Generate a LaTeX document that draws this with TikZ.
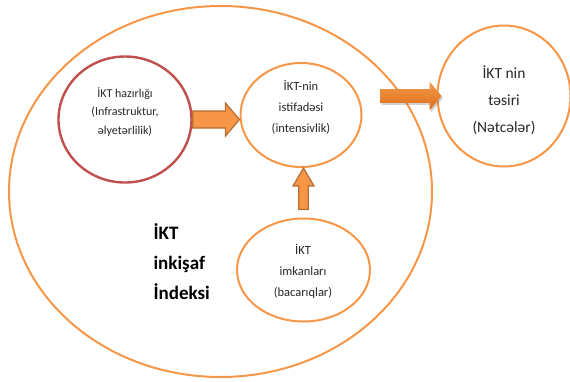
\documentclass[tikz,border=0pt]{standalone}
\usepackage{fontspec}
\setmainfont{Carlito}
\usetikzlibrary{calc,shapes.geometric,shadows}

\definecolor{ringorange}{HTML}{F79646}
\definecolor{ringred}{HTML}{C0504D}
\definecolor{arrowline}{HTML}{B66D31}
\definecolor{bigtop}{HTML}{F39A4A}
\definecolor{bigbottom}{HTML}{DE6E1A}

\tikzset{
  ring/.style={ellipse,draw=ringorange,line width=2pt,inner sep=0pt},
  smalltext/.style={align=center,font=\fontsize{12.5}{21}\selectfont,text=black!85},
  % block arrow: shaft half width, head half width, head length
  blockarrow/.style n args={3}{to path={
    let \p2=(\tikztostart), \p3=(\tikztotarget),
        \n1={veclen(\x3-\x2,\y3-\y2)}, \n2={atan2(\y3-\y2,\x3-\x2)} in
    {[shift={(\p2)},rotate=\n2]
      (0,#1) -- (\n1-#3,#1) -- (\n1-#3,#2) -- (\n1,0) -- (\n1-#3,-#2)
      -- (\n1-#3,-#1) -- (0,-#1) -- cycle}}},
  smallarrow/.style={draw=arrowline,fill=ringorange,line width=1.2pt,line join=miter},
  bigarrow/.style={draw=none,top color=bigtop,bottom color=bigbottom,
    drop shadow={shadow xshift=1.5pt,shadow yshift=-2pt,opacity=0.3,fill=black!60}},
}

\begin{document}
\begin{tikzpicture}[x=1pt,y=-1pt]
\useasboundingbox (0,0) rectangle (570,381);

\node[ring,minimum width=423,minimum height=371] (index) at (220.5,191.5) {};
\node[ring,draw=ringred,line width=2.4pt,minimum width=133,minimum height=126] (readiness) at (125,119.5) {};
\node[ring,minimum width=121,minimum height=104] (usage) at (301,115) {};
\node[ring,minimum width=133,minimum height=103] (capacity) at (303.5,270) {};
\node[ring,minimum width=133,minimum height=141] (impact) at (504,96) {};

\node[smalltext,font=\fontsize{12}{18.5}\selectfont] (readiness-text) at (125,112) {İKT hazırlığı\\(Infrastruktur,\\əlyetərlilik)};
\node[smalltext] (usage-text) at (301,107) {İKT-nin\\istifadəsi\\(intensivlik)};
\node[smalltext] (capacity-text) at (303,271) {İKT\\imkanları\\(bacarıqlar)};
\node[smalltext,font=\fontsize{15.5}{27}\selectfont] (impact-text) at (504,100) {İKT nin\\təsiri\\(Nətcələr)};
\node[align=left,anchor=west,font=\bfseries\fontsize{19}{30}\selectfont] (index-text) at (150,262) {İKT\\inkişaf\\İndeksi};

\coordinate (bigtail) at (380,96);

\draw[smallarrow] (readiness.east) to[blockarrow={8.5}{16.5}{14}] (readiness.east -| usage.west);
\draw[smallarrow] ($(capacity.north)+(0,-8)$) to[blockarrow={4.8}{10.5}{18}] (capacity.north |- usage.south);
\draw[bigarrow] (bigtail) to[blockarrow={6.8}{14.5}{12}] ($(impact.west)+(5,0)$);

\end{tikzpicture}
\end{document}
